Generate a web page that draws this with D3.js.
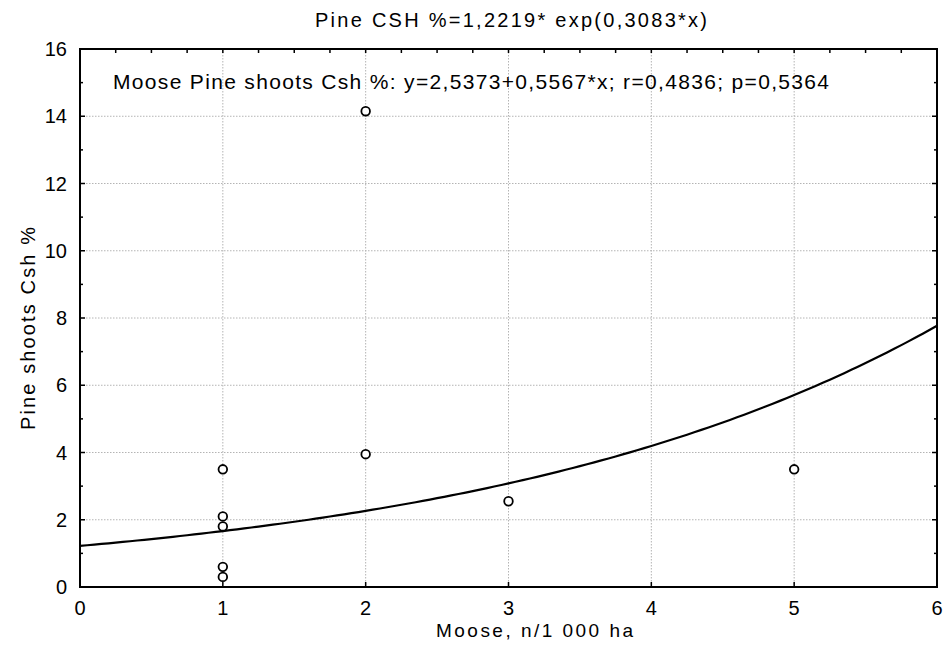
<!DOCTYPE html>
<html>
<head>
<meta charset="utf-8">
<script src="https://cdn.jsdelivr.net/npm/d3@7"></script>
<style>
  body { margin: 0; background: #fff; }
  svg text { font-family: "Liberation Sans", Arial, sans-serif; fill: #000; }
</style>
</head>
<body>
<div id="chart"></div>
<script>
(function () {
  // observations: moose density vs pine shoots damage
  var mooseX = [1, 1, 1, 1, 1, 2, 2, 3, 5];
  var csh = [3.5, 2.1, 1.8, 0.6, 0.3, 14.15, 3.95, 2.55, 3.5];

  // exponential fit coefficients from the title: a * exp(b * x)
  var fitA = 1.2219;
  var fitB = 0.3083;

  var xTicks = [0, 1, 2, 3, 4, 5, 6];
  var yTicks = [0, 2, 4, 6, 8, 10, 12, 14, 16];

  var titleText = 'Pine CSH %=1,2219*  exp(0,3083*x)';
  var noteText = 'Moose Pine shoots Csh %: y=2,5373+0,5567*x; r=0,4836; p=0,5364';
  var xTitle = 'Moose, n/1 000 ha';
  var yTitle = 'Pine shoots Csh %';

  var width = 949, height = 647;
  var left = 80, right = 937, top = 49, bottom = 587;

  var svg = d3.select('#chart').append('svg')
        .attr('width', width)
        .attr('height', height);

  var x = d3.scaleLinear().domain([0, 6]).range([left, right]);
  var y = d3.scaleLinear().domain([0, 16]).range([bottom, top]);

  // dotted grid
  svg.append('g').selectAll('line')
    .data(xTicks.slice(1, -1))
    .enter().append('line')
    .attr('x1', function (d) { return x(d); })
    .attr('x2', function (d) { return x(d); })
    .attr('y1', top).attr('y2', bottom)
    .attr('stroke', '#b4b4b4')
    .attr('stroke-dasharray', '1.5,1.5');

  svg.append('g').selectAll('line')
    .data(yTicks.slice(1, -1))
    .enter().append('line')
    .attr('y1', function (d) { return y(d); })
    .attr('y2', function (d) { return y(d); })
    .attr('x1', left).attr('x2', right)
    .attr('stroke', '#b4b4b4')
    .attr('stroke-dasharray', '1.5,1.5');

  // inward ticks
  var ticks = svg.append('g').attr('stroke', '#000').attr('stroke-width', 1.5);
  d3.range(0, 6.01, 0.25).forEach(function (v) {
    ticks.append('line')
      .attr('x1', x(v)).attr('x2', x(v))
      .attr('y1', top).attr('y2', top + 4);
  });
  xTicks.forEach(function (v) {
    ticks.append('line')
      .attr('x1', x(v)).attr('x2', x(v))
      .attr('y1', bottom).attr('y2', bottom - 5);
  });
  d3.range(0, 16.01, 1).forEach(function (v) {
    var len = (v % 2 === 0) ? 5 : 3;
    ticks.append('line')
      .attr('x1', left).attr('x2', left + len)
      .attr('y1', y(v)).attr('y2', y(v));
    ticks.append('line')
      .attr('x1', right).attr('x2', right - len)
      .attr('y1', y(v)).attr('y2', y(v));
  });

  // fitted curve
  var curveX = d3.range(0, 6.001, 0.05);
  var line = d3.line()
        .x(function (d) { return x(d); })
        .y(function (d) { return y(fitA * Math.exp(fitB * d)); });

  svg.append('path')
    .datum(curveX)
    .attr('d', line)
    .attr('fill', 'none')
    .attr('stroke', '#000')
    .attr('stroke-width', 2.2);

  // points
  svg.append('g').selectAll('circle')
    .data(csh)
    .enter().append('circle')
    .attr('cx', function (d, i) { return x(mooseX[i]); })
    .attr('cy', function (d) { return y(d); })
    .attr('r', 4.3)
    .attr('fill', '#fff')
    .attr('stroke', '#000')
    .attr('stroke-width', 1.8);

  // frame
  svg.append('rect')
    .attr('x', left).attr('y', top)
    .attr('width', right - left).attr('height', bottom - top)
    .attr('fill', 'none')
    .attr('stroke', '#000')
    .attr('stroke-width', 2);

  // tick labels
  svg.append('g').selectAll('text')
    .data(xTicks)
    .enter().append('text')
    .attr('x', function (d) { return x(d); })
    .attr('y', 615)
    .attr('text-anchor', 'middle')
    .style('font-size', '20px')
    .text(function (d) { return d; });

  svg.append('g').selectAll('text')
    .data(yTicks)
    .enter().append('text')
    .attr('x', 67)
    .attr('y', function (d) { return y(d) + 7; })
    .attr('text-anchor', 'end')
    .style('font-size', '20px')
    .text(function (d) { return d; });

  // titles
  svg.append('text')
    .attr('x', 315).attr('y', 27)
    .attr('textLength', 392)
    .attr('lengthAdjust', 'spacing')
    .style('font-size', '20px')
    .text(titleText);

  svg.append('text')
    .attr('x', 113).attr('y', 89)
    .attr('textLength', 716)
    .attr('lengthAdjust', 'spacing')
    .style('font-size', '21px')
    .text(noteText);

  svg.append('text')
    .attr('x', 436).attr('y', 637)
    .attr('textLength', 197)
    .attr('lengthAdjust', 'spacing')
    .style('font-size', '19px')
    .text(xTitle);

  svg.append('text')
    .attr('transform', 'translate(35,430) rotate(-90)')
    .attr('textLength', 203)
    .attr('lengthAdjust', 'spacing')
    .style('font-size', '20px')
    .text(yTitle);
})();
</script>
</body>
</html>
